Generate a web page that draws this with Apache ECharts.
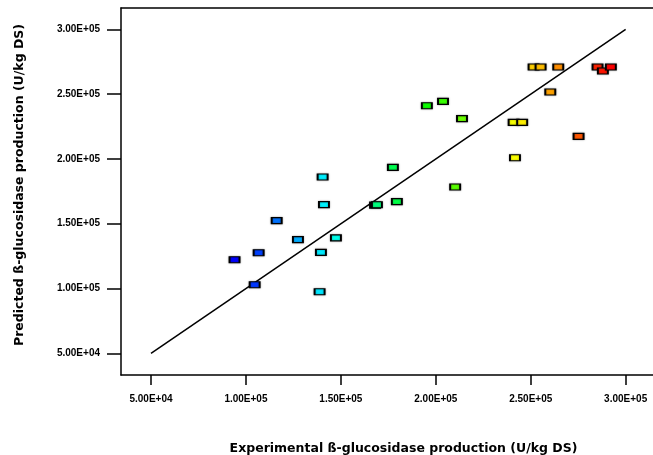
<!DOCTYPE html>
<html>
<head>
<meta charset="utf-8">
<script src="https://cdn.jsdelivr.net/npm/echarts@6/dist/echarts.min.js"></script>
<style>
  html, body { margin: 0; padding: 0; background: #fff; }
  #chart { width: 653px; height: 455px; }
</style>
</head>
<body>
<div id="chart"></div>
<script>
// experimental vs predicted (U/kg DS)
const experimental = [94000, 104600, 106700, 116200, 127400, 140400, 141100, 139500, 138800, 147400,
  168000, 169000, 177400, 179500, 195300, 203800, 213800, 210200, 241000, 245500,
  241700, 251500, 255200, 264500, 260300, 275200, 285200, 288000, 292200];
const predicted = [122200, 102900, 127600, 152300, 137700, 186000, 164700, 127900, 97500, 139000,
  164300, 164600, 193500, 167000, 241000, 244400, 231000, 178300, 228200, 228200,
  200900, 270900, 270900, 270900, 251600, 217400, 270900, 267800, 270900];
// 1:1 reference line
const lineEnds = [50000, 300000];
const tickValues = [50000, 100000, 150000, 200000, 250000, 300000];
const tickLabels = ['5.00E+04', '1.00E+05', '1.50E+05', '2.00E+05', '2.50E+05', '3.00E+05'];

const points = experimental.map((x, i) => [x, predicted[i]]);
const fmt = v => tickLabels[tickValues.indexOf(v)] || '';

const labelStyle = { color: '#000', fontFamily: 'Liberation Sans', fontWeight: 'bold', fontSize: 10 };
const nameStyle = { color: '#000', fontFamily: 'DejaVu Sans', fontWeight: 'bold', fontSize: 12.5 };

let myChart = echarts.init(document.getElementById('chart'));
myChart.setOption({
  animation: false,
  grid: { left: 121, top: 8, bottom: 80, right: 0, outerBoundsMode: 'none', containLabel: false },
  visualMap: {
    show: false,
    type: 'continuous',
    seriesIndex: 0,
    dimension: 0,
    min: 94000,
    max: 292000,
    inRange: { color: ['#0000ff', '#00ffff', '#00ff00', '#ffff00', '#ff0000'] }
  },
  xAxis: [
    {
      type: 'value',
      min: 34200,
      max: 314400,
      name: 'Experimental ß-glucosidase production (U/kg DS)',
      nameLocation: 'middle',
      nameGap: 67,
      nameTextStyle: Object.assign({ padding: [0, 0, 0, 33] }, nameStyle),
      splitLine: { show: false },
      axisLine: { lineStyle: { color: '#000', width: 1.5 } },
      axisTick: { customValues: tickValues, length: 10, lineStyle: { color: '#000', width: 1.5 } },
      axisLabel: Object.assign({ customValues: tickValues, formatter: fmt, margin: 19 }, labelStyle)
    },
    {
      // top frame line only
      type: 'value',
      position: 'top',
      min: 34200,
      max: 314400,
      splitLine: { show: false },
      axisLine: { show: true, lineStyle: { color: '#000', width: 1.5 } },
      axisTick: { show: false },
      axisLabel: { show: false }
    }
  ],
  yAxis: {
    type: 'value',
    min: 33260,
    max: 316400,
    name: 'Predicted ß-glucosidase production (U/kg DS)',
    nameLocation: 'middle',
    nameGap: 95,
    nameTextStyle: Object.assign({ padding: [0, 0, 0, 13] }, nameStyle),
    splitLine: { show: false },
    axisLine: { show: true, lineStyle: { color: '#000', width: 1.5 } },
    axisTick: { show: true, customValues: tickValues, length: 14, lineStyle: { color: '#000', width: 1.5 } },
    axisLabel: Object.assign({ customValues: tickValues, formatter: fmt, margin: 21 }, labelStyle)
  },
  series: [
    {
      type: 'scatter',
      data: points,
      symbol: 'rect',
      symbolSize: [10, 6],
      itemStyle: {
        borderColor: '#000',
        borderWidth: 1.5,
        opacity: 1,
        shadowBlur: 2,
        shadowColor: 'rgba(0,0,0,0.35)'
      },
      z: 3
    },
    {
      type: 'line',
      data: [[lineEnds[0], lineEnds[0]], [lineEnds[1], lineEnds[1]]],
      symbol: 'none',
      lineStyle: { color: '#000', width: 1.5 },
      z: 2
    }
  ]
});
</script>
</body>
</html>
